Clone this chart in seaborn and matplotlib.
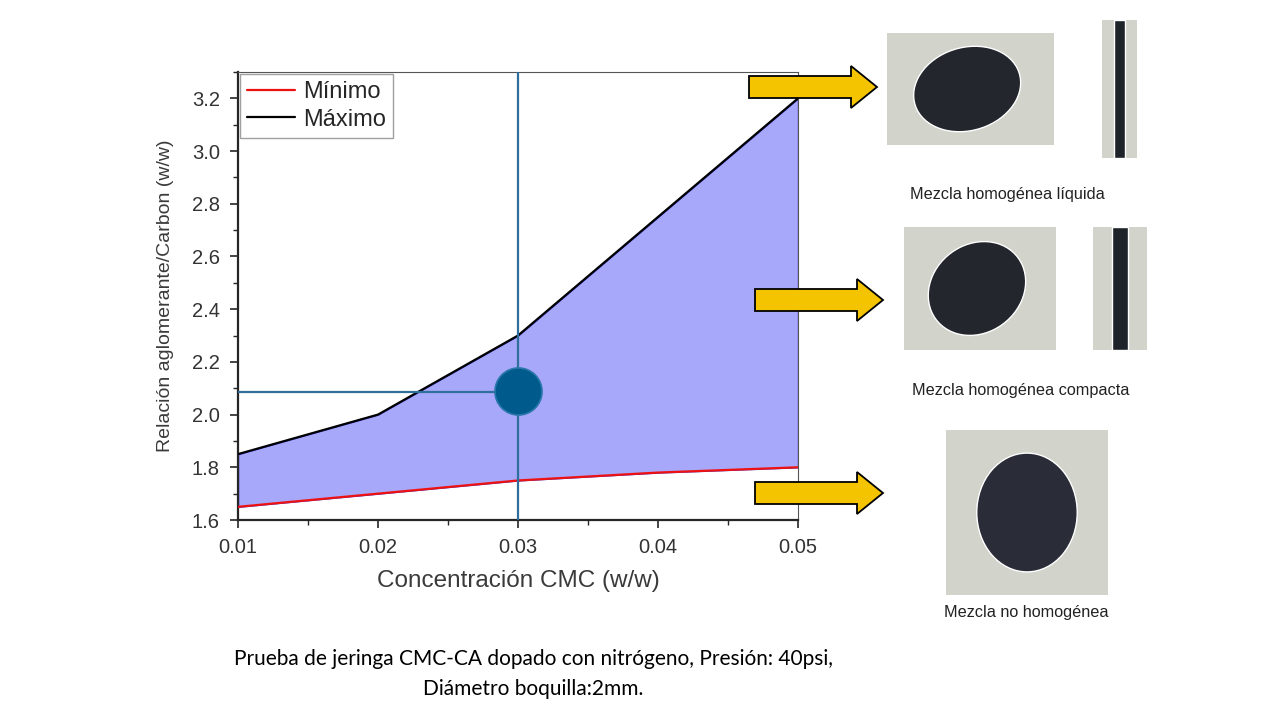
import matplotlib
matplotlib.use("Agg")
import matplotlib.pyplot as plt
from matplotlib.patches import FancyArrow, Rectangle, Ellipse
from matplotlib.ticker import MultipleLocator
import pandas as pd
import seaborn as sns

# data
cmc = [0.01, 0.02, 0.03, 0.04, 0.05]
ratio_min = [1.65, 1.70, 1.75, 1.78, 1.80]
ratio_max = [1.85, 2.00, 2.30, 2.75, 3.20]
chosen_cmc = 0.03
chosen_ratio = 2.085

captions = ["Mezcla homogénea líquida", "Mezcla homogénea compacta", "Mezcla no homogénea"]

sns.set_style("ticks")
plt.rcParams["font.family"] = ["Liberation Sans", "DejaVu Sans"]

df = pd.DataFrame({"cmc": cmc * 2,
                   "ratio": ratio_min + ratio_max,
                   "serie": ["Mínimo"] * 5 + ["Máximo"] * 5})

fig = plt.figure(figsize=(12.8, 7.2), dpi=100)
ax = fig.add_axes([238 / 1280, 1 - 520 / 720, 560 / 1280, 448 / 720])

ax.fill_between(cmc, ratio_min, ratio_max, facecolor="#a8a8fa",
                edgecolor="#3a3ad0", lw=1, zorder=1)
sns.lineplot(data=df, x="cmc", y="ratio", hue="serie",
             palette={"Mínimo": "#ee1111", "Máximo": "#000000"},
             lw=1.6, ax=ax, zorder=3)

ax.axvline(chosen_cmc, color="#2f6f9c", lw=1.6, zorder=4)
ax.plot([cmc[0], chosen_cmc], [chosen_ratio, chosen_ratio], color="#2f6f9c", lw=1.6, zorder=4)
ax.scatter([chosen_cmc], [chosen_ratio + 0.005], s=1150, color="#005b8c",
           edgecolor="#2a78aa", lw=1.2, zorder=5)

ax.set_xlim(0.01, 0.05)
ax.set_ylim(1.6, 3.3)
ax.set_xticks([0.01, 0.02, 0.03, 0.04, 0.05])
ax.set_xticklabels(["0.01", "0.02", "0.03", "0.04", "0.05"])
ax.set_yticks([1.6, 1.8, 2.0, 2.2, 2.4, 2.6, 2.8, 3.0, 3.2])
ax.xaxis.set_minor_locator(MultipleLocator(0.005))
ax.yaxis.set_minor_locator(MultipleLocator(0.1))
ax.tick_params(which="major", length=6, width=1.2, labelsize=14.5, labelcolor="#333333", pad=7)
ax.tick_params(which="minor", length=3.5, width=1)
ax.set_xlabel("Concentración CMC (w/w)", fontsize=17.5, color="#3a3a3a", labelpad=9)
ax.set_ylabel("Relación aglomerante/Carbon (w/w)", fontsize=14, color="#3a3a3a", labelpad=13)
for side in ["left", "bottom"]:
    ax.spines[side].set_linewidth(1.6)
for side in ["top", "right"]:
    ax.spines[side].set_visible(True)
    ax.spines[side].set_linewidth(0.8)
    ax.spines[side].set_color("#555555")

leg = ax.legend(loc="upper left", fontsize=17, frameon=True, fancybox=False,
                edgecolor="#888888", borderaxespad=0.1, handlelength=2.0,
                handletextpad=0.35, borderpad=0.3, labelspacing=0.22)
leg.get_frame().set_linewidth(1)
for h in leg.get_lines():
    h.set_linewidth(1.6)

# arrows pointing to the samples
for x0, y0 in [(749, 87), (755, 300), (755, 493)]:
    fig.patches.append(FancyArrow(x0 / 1280, 1 - y0 / 720, 128 / 1280, 0,
                                  width=22 / 720, head_width=42 / 720,
                                  head_length=26 / 1280, length_includes_head=True,
                                  facecolor="#f5c400", edgecolor="black", lw=1.3,
                                  transform=fig.transFigure))

# placeholder panels for the sample photos
photos = [(887, 33, 167, 112, "blob"), (1102, 20, 35, 138, "strip"),
          (904, 227, 152, 123, "blob"), (1093, 227, 54, 123, "strip"),
          (946, 430, 162, 165, "crumb")]
for px, py, pw, ph, kind in photos:
    pax = fig.add_axes([px / 1280, 1 - (py + ph) / 720, pw / 1280, ph / 720])
    pax.set_xlim(0, 1)
    pax.set_ylim(0, 1)
    pax.axis("off")
    pax.add_patch(Rectangle((0, 0), 1, 1, facecolor="#d2d3cb", edgecolor="none"))
    if kind == "blob":
        pax.add_patch(Ellipse((0.48, 0.5), 0.62, 0.78, angle=-20, facecolor="#23272d"))
    elif kind == "strip":
        pax.add_patch(Rectangle((0.35, 0), 0.3, 1, facecolor="#1e2229"))
    else:
        pax.add_patch(Ellipse((0.5, 0.5), 0.62, 0.72, facecolor="#2a2c38"))

fig.text(1007 / 1280, 1 - 195 / 720, captions[0], ha="center", va="center", fontsize=11.7, color="#222222")
fig.text(1021 / 1280, 1 - 391 / 720, captions[1], ha="center", va="center", fontsize=11.7, color="#222222")
fig.text(1026 / 1280, 1 - 612 / 720, captions[2], ha="center", va="center", fontsize=11.7, color="#222222")

fig.text(533 / 1280, 1 - 674 / 720,
         "Prueba de jeringa CMC-CA dopado con nitrógeno, Presión: 40psi,\nDiámetro boquilla:2mm.",
         ha="center", va="center", fontsize=15, family=["Lato", "DejaVu Sans"],
         linespacing=1.58, color="black")

fig.savefig("out.png", dpi=100)
